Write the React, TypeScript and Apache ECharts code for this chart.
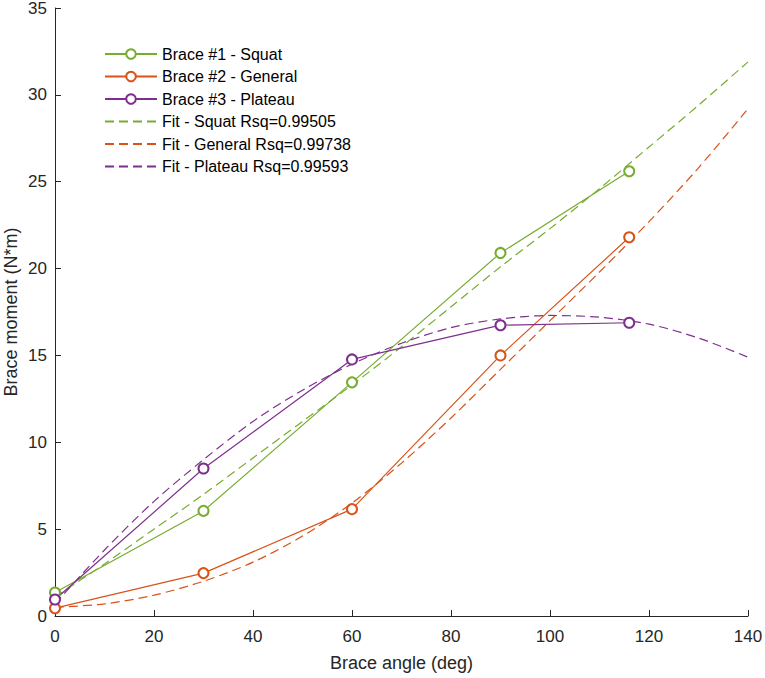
import React, { useEffect, useRef } from "react";
import * as echarts from "echarts";

const angles = [0, 30, 60, 90, 116];
const squat = [1.35, 6.05, 13.45, 20.9, 25.6];
const general = [0.45, 2.47, 6.15, 15.0, 21.8];
const plateau = [0.95, 8.49, 14.77, 16.74, 16.88];

const fitAngles = [0, 10, 20, 30, 40, 50, 60, 70, 80, 90, 100, 110, 120, 130, 140];
const squatFit = [1.1, 3.0, 5.0, 7.0, 9.1, 11.2, 13.3, 15.5, 17.8, 20.1, 22.3, 24.6, 27.0, 29.4, 31.9];
const generalFit = [0.5, 0.7, 1.2, 2.0, 3.1, 4.6, 6.5, 8.8, 11.4, 14.2, 17.0, 19.8, 22.7, 25.8, 29.2];
const plateauFit = [0.7, 3.8, 6.6, 9.0, 11.2, 13.0, 14.5, 15.7, 16.6, 17.1, 17.3, 17.2, 16.8, 16.0, 14.9];

const names = [
  "Brace #1 - Squat",
  "Brace #2 - General",
  "Brace #3 - Plateau",
  "Fit - Squat Rsq=0.99505",
  "Fit - General Rsq=0.99738",
  "Fit - Plateau Rsq=0.99593",
];
const colors = ["#77AC30", "#D95319", "#7E2F8E"];

const FONT = "'Liberation Sans', Arial, sans-serif";
const AX = "#262626";

function pairs(xs: number[], ys: number[]) {
  return xs.map((x, i) => [x, ys[i]]);
}

export default function App() {
  const ref = useRef<HTMLDivElement>(null);
  useEffect(() => {
    if (!ref.current) return;
    const chart = echarts.init(ref.current, undefined, { renderer: "svg" });
    const measured = [squat, general, plateau];
    const fits = [squatFit, generalFit, plateauFit];
    const series: any[] = [];
    measured.forEach((ys, i) => {
      series.push({
        name: names[i],
        type: "line",
        data: pairs(angles, ys),
        symbol: "emptyCircle",
        symbolSize: 10,
        color: colors[i],
        lineStyle: { width: 1.2, color: colors[i] },
        itemStyle: { color: colors[i], borderColor: colors[i], borderWidth: 1.2 },
        z: 3,
      });
    });
    fits.forEach((ys, i) => {
      series.push({
        name: names[i + 3],
        type: "line",
        data: pairs(fitAngles, ys),
        smooth: 0.3,
        showSymbol: false,
        symbol: "none",
        color: colors[i],
        lineStyle: { width: 1.2, type: [9, 5], color: colors[i] },
        itemStyle: { color: colors[i] },
        z: 2,
      });
    });
    const legendData = names.map((n, i) =>
      i < 3 ? { name: n } : { name: n, itemStyle: { opacity: 0 } }
    );
    chart.setOption({
      animation: false,
      textStyle: { fontFamily: FONT },
      grid: { left: 55, right: 17, top: 8, bottom: 62, containLabel: false, outerBoundsMode: "none" },
      legend: {
        orient: "vertical",
        left: 99,
        top: 41,
        itemWidth: 52,
        itemHeight: 12,
        itemGap: 6.5,
        data: legendData,
        textStyle: { fontFamily: FONT, fontSize: 16, color: "#000", lineHeight: 16 },
      },
      xAxis: {
        type: "value",
        min: 0,
        max: 140,
        interval: 20,
        name: "Brace angle (deg)",
        nameLocation: "middle",
        nameGap: 38,
        nameMoveOverlap: false,
        nameTextStyle: { fontFamily: FONT, fontSize: 18, color: AX },
        axisLine: { onZero: false, lineStyle: { color: AX, width: 1 } },
        axisTick: { inside: true, length: 6, lineStyle: { color: AX } },
        axisLabel: { fontFamily: FONT, fontSize: 17, color: AX, margin: 12 },
        splitLine: { show: false },
      },
      yAxis: {
        type: "value",
        min: 0,
        max: 35,
        interval: 5,
        name: "Brace moment (N*m)",
        nameLocation: "middle",
        nameGap: 35,
        nameMoveOverlap: false,
        nameTextStyle: { fontFamily: FONT, fontSize: 18, color: AX },
        axisLine: { show: true, onZero: false, lineStyle: { color: AX, width: 1 } },
        axisTick: { show: true, inside: true, length: 6, lineStyle: { color: AX } },
        axisLabel: { fontFamily: FONT, fontSize: 17, color: AX, margin: 8 },
        splitLine: { show: false },
      },
      series,
    });
    return () => chart.dispose();
  }, []);
  return (
    <div
      ref={ref}
      style={{ position: "absolute", left: 0, top: 0, width: 765, height: 678, background: "#fff" }}
    />
  );
}
